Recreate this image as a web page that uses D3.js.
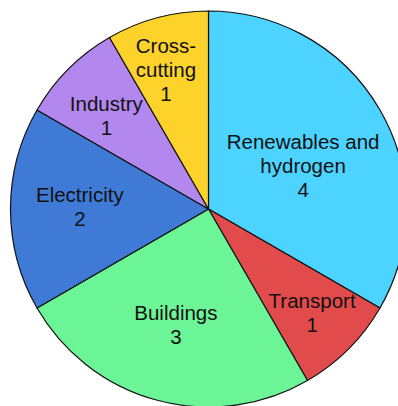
<!DOCTYPE html>
<html>
<head>
<meta charset="utf-8">
<script src="https://cdn.jsdelivr.net/npm/d3@7"></script>
<style>
  html, body { margin: 0; padding: 0; background: #fff; }
  svg { display: block; }
  text { font-family: "Liberation Sans", Arial, sans-serif; }
</style>
</head>
<body>
<svg id="chart" width="398" height="406"></svg>
<script>
// Sectors, drawn clockwise from 12 o'clock
const categories = ["Renewables and hydrogen", "Transport", "Buildings", "Electricity", "Industry", "Cross-cutting"];
const values = [4, 1, 3, 2, 1, 1];
// How each category name breaks across lines inside its slice
const labelLines = [
  ["Renewables and", "hydrogen"],
  ["Transport"],
  ["Buildings"],
  ["Electricity"],
  ["Industry"],
  ["Cross-", "cutting"]
];

const colors = ["#4cd3ff", "#e24b4b", "#6cf596", "#3f7bd6", "#b388ee", "#fdd22b"];

// Label placement inside each slice: radius as a share of the pie radius, plus angular nudge (degrees)
const labelPlace = [
  { r: 0.525, da: 5.5 },
  { r: 0.74,  da: 0 },
  { r: 0.605, da: 0.8 },
  { r: 0.65,  da: 0.9 },
  { r: 0.70,  da: -2.5 },
  { r: 0.735, da: -2 }
];

const svg = d3.select("#chart");
const cx = 208.5, cy = 209, R = 198;
const fontSize = 20.5, lineGap = 24, capH = 14.6;

const pie = d3.pie().sort(null).value(d => d.value);
const arc = d3.arc().innerRadius(0).outerRadius(R);

const data = categories.map((c, i) => ({ name: c, value: values[i], lines: labelLines[i], color: colors[i], place: labelPlace[i] }));
const arcs = pie(data);

const g = svg.append("g").attr("transform", `translate(${cx},${cy})`);

g.selectAll("path.slice")
  .data(arcs)
  .join("path")
  .attr("class", "slice")
  .attr("d", arc)
  .attr("fill", d => d.data.color)
  .attr("stroke", "#111")
  .attr("stroke-width", 1.2)
  .attr("stroke-linejoin", "round");

g.selectAll("text.lbl")
  .data(arcs)
  .join("text")
  .attr("class", "lbl")
  .attr("text-anchor", "middle")
  .attr("font-size", fontSize)
  .attr("fill", "#111")
  .each(function (d) {
    const mid = (d.startAngle + d.endAngle) / 2 + d.data.place.da * Math.PI / 180;
    const rr = d.data.place.r * R;
    const x = rr * Math.sin(mid);
    const y = -rr * Math.cos(mid);
    const rows = d.data.lines.concat([String(d.data.value)]);
    const blockH = capH + lineGap * (rows.length - 1);
    const firstBase = y - blockH / 2 + capH;
    const t = d3.select(this);
    rows.forEach((row, k) => {
      t.append("tspan")
        .attr("x", x)
        .attr("y", firstBase + k * lineGap)
        .text(row);
    });
  });
</script>
</body>
</html>
